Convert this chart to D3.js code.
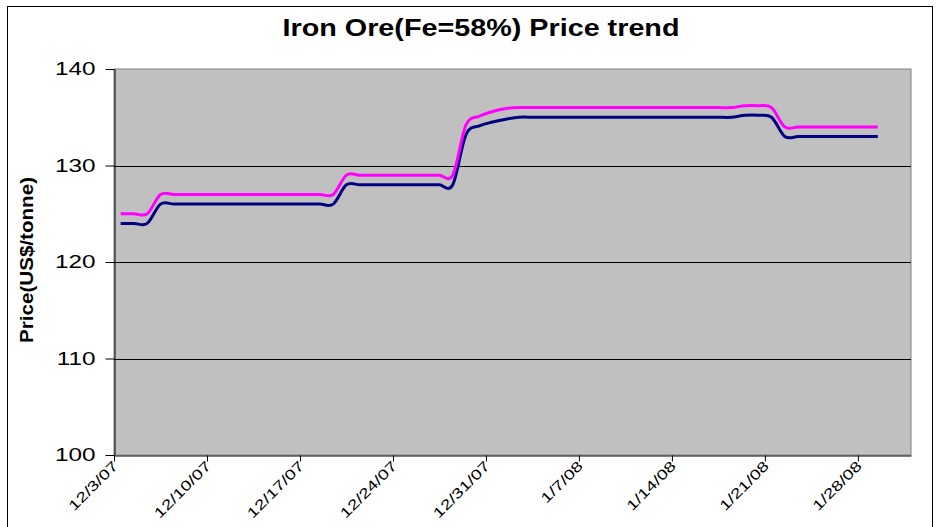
<!DOCTYPE html>
<html>
<head>
<meta charset="utf-8">
<script src="https://cdn.jsdelivr.net/npm/d3@7"></script>
<style>
  body { margin: 0; background: #fff; }
  svg { display: block; font-family: "Liberation Sans", Arial, sans-serif; }
</style>
</head>
<body>
<div id="chart"></div>
<script>
// daily prices from 12/3/07 to 1/29/08
const startDate = '12/3/07';
const priceHigh = [
  125, 125, 125, 127, 127, 127, 127, 127, 127, 127,
  127, 127, 127, 127, 127, 127, 127, 129, 129, 129,
  129, 129, 129, 129, 129, 129, 134.2, 135.1, 135.6, 135.9,
  136, 136, 136, 136, 136, 136, 136, 136, 136, 136,
  136, 136, 136, 136, 136, 136, 136, 136.2, 136.2, 136,
  134, 134, 134, 134, 134, 134, 134, 134
];
const priceLow = [
  124, 124, 124, 126, 126, 126, 126, 126, 126, 126,
  126, 126, 126, 126, 126, 126, 126, 128, 128, 128,
  128, 128, 128, 128, 128, 128, 133.2, 134.1, 134.5, 134.8,
  135, 135, 135, 135, 135, 135, 135, 135, 135, 135,
  135, 135, 135, 135, 135, 135, 135, 135.2, 135.2, 135,
  133, 133, 133, 133, 133, 133, 133, 133
];
const xTickLabels = ['12/3/07', '12/10/07', '12/17/07', '12/24/07', '12/31/07', '1/7/08', '1/14/08', '1/21/08', '1/28/08'];
const xDomainLabels = ['12/3/07', '2/1/08'];
const yTicks = [100, 110, 120, 130, 140];

// the original chart text is drawn wider than the font's normal width
const stretch = (sel, k) => sel.each(function () {
  const len = this.getComputedTextLength();
  d3.select(this)
    .attr('textLength', len * k)
    .attr('lengthAdjust', 'spacingAndGlyphs');
});

const draw = (el) => {
  const dimensions = {
    width: 939,
    height: 527,
    left: 114,
    right: 911,
    top: 69,
    bottom: 455,
  };

  const parse = d3.timeParse('%m/%d/%y');
  const start = parse(startDate);
  // points sit in the middle of each day slot
  const dates = priceHigh.map((_, i) => d3.timeHour.offset(d3.timeDay.offset(start, i), 12));

  const svg = d3.select(el)
    .append('svg')
    .attr('width', dimensions.width)
    .attr('height', dimensions.height);

  // chart border
  svg.append('rect')
    .attr('x', 7.5)
    .attr('y', 6.5)
    .attr('width', 925)
    .attr('height', 540)
    .attr('fill', 'white')
    .attr('stroke', 'black');

  const x = d3.scaleTime()
    .domain(xDomainLabels.map(parse))
    .range([dimensions.left, dimensions.right]);

  const y = d3.scaleLinear()
    .domain([100, 140])
    .range([dimensions.bottom, dimensions.top]);

  // plot area
  svg.append('rect')
    .attr('x', dimensions.left)
    .attr('y', dimensions.top)
    .attr('width', dimensions.right - dimensions.left)
    .attr('height', dimensions.bottom - dimensions.top)
    .attr('fill', '#c0c0c0')
    .attr('stroke', '#808080');

  // gridlines
  svg.append('g')
    .selectAll('line')
    .data(yTicks.slice(1, -1))
    .join('line')
    .attr('x1', dimensions.left)
    .attr('x2', dimensions.right)
    .attr('y1', (d) => Math.round(y(d)) + 0.5)
    .attr('y2', (d) => Math.round(y(d)) + 0.5)
    .attr('stroke', 'black');

  // y axis
  const yAxis = svg.append('g')
    .attr('transform', `translate(${dimensions.left + 0.5}, 0)`)
    .call(d3.axisLeft(y).tickValues(yTicks).tickSize(9).tickPadding(10).tickSizeOuter(0));
  yAxis.select('.domain').attr('stroke', 'black');
  yAxis.selectAll('text')
    .attr('font-size', 18)
    .attr('font-family', '"Liberation Sans", Arial, sans-serif')
    .attr('fill', 'black')
    .call(stretch, 1.35);

  // x axis
  const xAxis = svg.append('g')
    .attr('transform', `translate(0, ${dimensions.bottom + 0.5})`)
    .call(d3.axisBottom(x).tickValues(xTickLabels.map(parse)).tickFormat((d) => d3.timeFormat('%-m/%-d/%y')(d)).tickSize(6).tickSizeOuter(0));
  xAxis.select('.domain').attr('stroke', 'black');
  xAxis.selectAll('text')
    .attr('font-size', 14)
    .attr('font-family', '"Liberation Sans", Arial, sans-serif')
    .attr('fill', 'black')
    .attr('text-anchor', 'end')
    .attr('dy', 0)
    .attr('transform', 'translate(-2, 5) rotate(-45)')
    .call(stretch, 1.35);

  const line = (values) => d3.line()
    .x((_, i) => x(dates[i]))
    .y((d) => y(d))
    .curve(d3.curveCardinal.tension(0))(values);

  svg.append('path')
    .attr('d', line(priceLow))
    .attr('fill', 'none')
    .attr('stroke', '#000080')
    .attr('stroke-width', 3);

  svg.append('path')
    .attr('d', line(priceHigh))
    .attr('fill', 'none')
    .attr('stroke', '#ff00ff')
    .attr('stroke-width', 3);

  svg.append('text')
    .attr('x', 481)
    .attr('y', 36)
    .attr('text-anchor', 'middle')
    .attr('font-size', 23)
    .attr('font-weight', 'bold')
    .attr('textLength', 397)
    .attr('lengthAdjust', 'spacingAndGlyphs')
    .text('Iron Ore(Fe=58%) Price trend');

  svg.append('text')
    .attr('transform', 'translate(33, 260) rotate(-90)')
    .attr('text-anchor', 'middle')
    .attr('font-size', 18)
    .attr('font-weight', 'bold')
    .attr('textLength', 166)
    .attr('lengthAdjust', 'spacingAndGlyphs')
    .text('Price(US$/tonne)');
};

draw('#chart');
</script>
</body>
</html>
